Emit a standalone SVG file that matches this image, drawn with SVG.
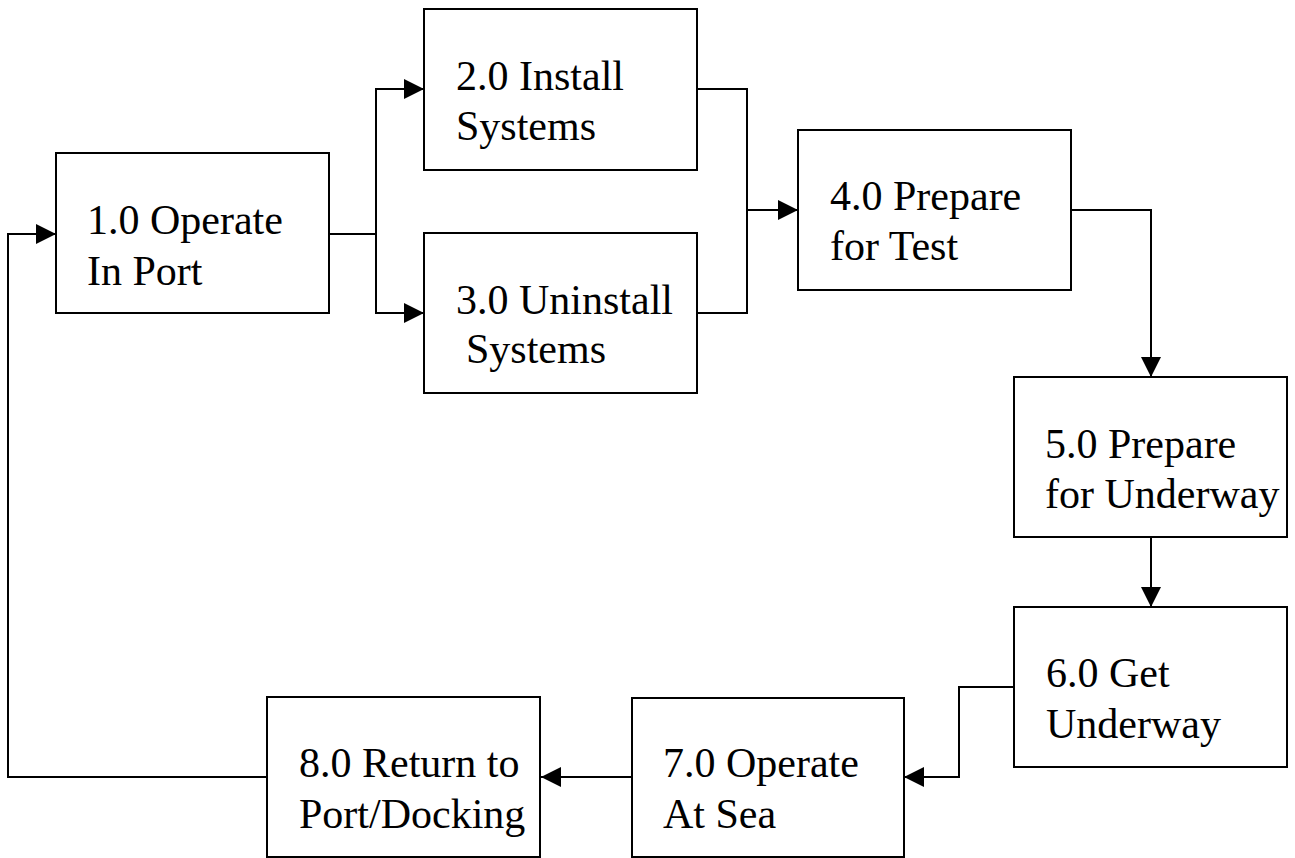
<svg xmlns="http://www.w3.org/2000/svg" width="1295" height="858" viewBox="0 0 1295 858">
  <style>
    .box { fill: #ffffff; stroke: #000000; stroke-width: 2; }
    .lbl { font-size: 42px; fill: #000000; }
    .wire { fill: none; stroke: #000000; stroke-width: 2; }
    .arrow { fill: none; stroke: #000000; stroke-width: 2; marker-end: url(#head); }
  </style>
  <defs>
    <marker id="head" markerUnits="userSpaceOnUse" markerWidth="20" markerHeight="20" refX="20" refY="10" orient="auto">
      <path d="M0,0 L20,10 L0,20 Z" fill="#000000"/>
    </marker>
  </defs>
  <rect width="1295" height="858" fill="#ffffff"/>

  <!-- connectors -->
  <g id="connectors">
    <!-- 1.0 splits to 2.0 and 3.0 -->
    <path class="wire" d="M329,234 H376"/>
    <path class="arrow" d="M376,234 V89 H424"/>
    <path class="arrow" d="M376,234 V313 H424"/>
    <!-- 2.0 and 3.0 merge into 4.0 -->
    <path class="wire" d="M697,89 H747 V313 H697"/>
    <path class="arrow" d="M747,210 H798"/>
    <!-- 4.0 to 5.0 -->
    <path class="arrow" d="M1071,210 H1151 V377"/>
    <!-- 5.0 to 6.0 -->
    <path class="arrow" d="M1151,537 V607"/>
    <!-- 6.0 to 7.0 -->
    <path class="arrow" d="M1014,687 H959 V777 H904"/>
    <!-- 7.0 to 8.0 -->
    <path class="arrow" d="M632,777 H541"/>
    <!-- 8.0 back to 1.0 -->
    <path class="arrow" d="M267,777 H8 V234 H56"/>
  </g>

  <g font-family="'Liberation Serif', 'DejaVu Serif', serif">
    <g id="n1">
      <rect class="box" x="56" y="153" width="273" height="160"/>
      <text class="lbl" x="87" y="234">1.0 Operate</text>
      <text class="lbl" x="87" y="285">In Port</text>
    </g>
    <g id="n2">
      <rect class="box" x="424" y="9" width="273" height="161"/>
      <text class="lbl" x="456" y="90">2.0 Install</text>
      <text class="lbl" x="456" y="140">Systems</text>
    </g>
    <g id="n3">
      <rect class="box" x="424" y="233" width="273" height="160"/>
      <text class="lbl" x="456" y="314">3.0 Uninstall</text>
      <text class="lbl" x="466" y="363">Systems</text>
    </g>
    <g id="n4">
      <rect class="box" x="798" y="130" width="273" height="160"/>
      <text class="lbl" x="830" y="210">4.0 Prepare</text>
      <text class="lbl" x="830" y="260">for Test</text>
    </g>
    <g id="n5">
      <rect class="box" x="1014" y="377" width="273" height="160"/>
      <text class="lbl" x="1045" y="458">5.0 Prepare</text>
      <text class="lbl" x="1045" y="508">for Underway</text>
    </g>
    <g id="n6">
      <rect class="box" x="1014" y="607" width="273" height="160"/>
      <text class="lbl" x="1046" y="687">6.0 Get</text>
      <text class="lbl" x="1046" y="738">Underway</text>
    </g>
    <g id="n7">
      <rect class="box" x="632" y="698" width="272" height="159"/>
      <text class="lbl" x="663" y="777">7.0 Operate</text>
      <text class="lbl" x="663" y="828">At Sea</text>
    </g>
    <g id="n8">
      <rect class="box" x="267" y="697" width="273" height="160"/>
      <text class="lbl" x="299" y="777">8.0 Return to</text>
      <text class="lbl" x="299" y="828">Port/Docking</text>
    </g>
  </g>
</svg>
